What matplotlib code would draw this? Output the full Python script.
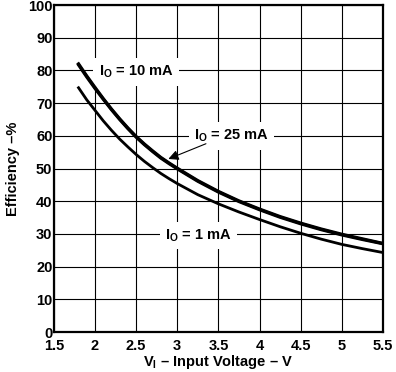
import numpy as np
import matplotlib
matplotlib.use("Agg")
import matplotlib.pyplot as plt

##############
## Efficiency vs input voltage, three load currents
##############

plt.rcParams['font.family'] = ['Liberation Sans', 'DejaVu Sans']
plt.rcParams['font.weight'] = 'bold'
plt.rcParams['mathtext.fontset'] = 'custom'
plt.rcParams['mathtext.rm'] = 'Liberation Sans:bold'
plt.rcParams['mathtext.bf'] = 'Liberation Sans:bold'
plt.rcParams['mathtext.it'] = 'Liberation Sans:bold'

#### data
vin = [1.8, 1.9, 2.0, 2.1, 2.2, 2.3, 2.4, 2.5, 2.6, 2.7, 2.8, 2.9, 3.0,
       3.25, 3.5, 3.75, 4.0, 4.25, 4.5, 4.75, 5.0, 5.25, 5.5]
eff_10mA = [82.0, 78.3, 74.8, 71.4, 68.2, 65.2, 62.4, 59.8, 57.5, 55.4, 53.4, 51.7, 50.1,
            46.3, 43.0, 40.1, 37.6, 35.3, 33.3, 31.5, 29.9, 28.5, 27.1]
eff_25mA = [81.7, 78.0, 74.5, 71.2, 68.0, 65.0, 62.2, 59.6, 57.3, 55.2, 53.2, 51.5, 49.9,
            46.1, 42.8, 39.9, 37.4, 35.1, 33.1, 31.3, 29.7, 28.3, 27.0]
eff_1mA = [74.7, 71.0, 67.8, 64.6, 61.7, 59.0, 56.6, 54.3, 52.2, 50.3, 48.5, 46.9, 45.4,
           42.0, 39.2, 36.7, 34.4, 32.2, 30.2, 28.4, 26.8, 25.5, 24.3]

x_ticks = [1.5, 2, 2.5, 3, 3.5, 4, 4.5, 5, 5.5]
x_tick_labels = ['1.5', '2', '2.5', '3', '3.5', '4', '4.5', '5', '5.5']
y_ticks = [0, 10, 20, 30, 40, 50, 60, 70, 80, 90, 100]

fs = 10.5

fig = plt.figure(figsize=(3.96, 3.72), dpi=100)
ax = fig.add_axes([0.136, 0.1075, 0.831, 0.879])

ax.set_xlim(1.5, 5.5)
ax.set_ylim(0, 100)
ax.set_xticks(x_ticks)
ax.set_xticklabels(x_tick_labels)
ax.set_yticks(y_ticks)
ax.tick_params(axis='x', length=0, labelsize=fs, pad=5)
ax.tick_params(axis='y', length=0, labelsize=fs, pad=1)
for lab in ax.get_xticklabels() + ax.get_yticklabels():
    lab.set_fontweight('bold')

ax.grid(True, color='black', linewidth=0.8)
ax.set_axisbelow(True)
for s in ax.spines.values():
    s.set_linewidth(1.6)

## curves
ax.plot(vin, eff_10mA, color='black', linewidth=2.3, zorder=3)
ax.plot(vin, eff_25mA, color='black', linewidth=2.3, zorder=3)
ax.plot(vin, eff_1mA, color='black', linewidth=2.0, zorder=3)

## labels with white box over the grid
box = dict(facecolor='white', edgecolor='none', pad=4)
ax.text(2.5, 79.5, r'$\mathregular{I_O}$ = 10 mA', ha='center', va='center',
        fontsize=fs, fontweight='bold', bbox=box, zorder=2)
ax.text(3.66, 60.0, r'$\mathregular{I_O}$ = 25 mA', ha='center', va='center',
        fontsize=fs, fontweight='bold', bbox=box, zorder=2)
ax.text(3.26, 29.5, r'$\mathregular{I_O}$ = 1 mA', ha='center', va='center',
        fontsize=fs, fontweight='bold', bbox=box, zorder=2)

ax.annotate('', xy=(2.86, 52.6), xytext=(3.38, 57.9),
            arrowprops=dict(arrowstyle='-|>', color='black', lw=0.8,
                            mutation_scale=15), zorder=4)

ax.set_xlabel(r'$\mathregular{V_I}$ – Input Voltage – V', fontsize=fs,
              fontweight='bold', labelpad=0)
ax.set_ylabel('Efficiency –%', fontsize=fs, fontweight='bold', labelpad=6)

plt.savefig('out.png', dpi=100)
